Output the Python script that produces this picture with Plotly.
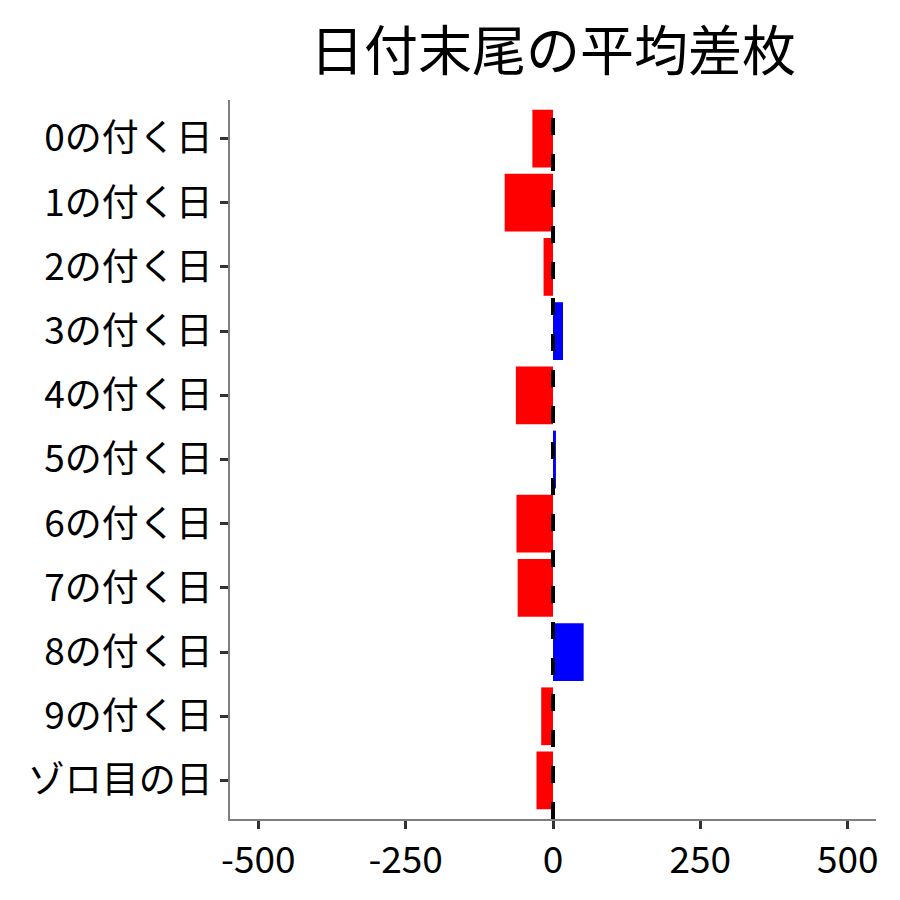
import plotly.graph_objects as go

categories = ["0の付く日", "1の付く日", "2の付く日", "3の付く日", "4の付く日",
              "5の付く日", "6の付く日", "7の付く日", "8の付く日", "9の付く日", "ゾロ目の日"]
values = [-35, -82, -16, 17, -63, 5, -62, -60, 52, -20, -28]
x_ticks = [-500, -250, 0, 250, 500]
title_text = "日付末尾の平均差枚"

colors = ["#0000FF" if v > 0 else "#FF0000" for v in values]

fig = go.Figure()
fig.add_trace(go.Bar(
    x=values, y=categories, orientation="h",
    marker=dict(color=colors, line=dict(width=0)),
    width=0.9, showlegend=False,
))

fig.add_shape(type="line", xref="x", yref="paper", x0=0, x1=0, y0=0, y1=1,
              line=dict(color="black", width=4, dash="17px,19px"), layer="above")

font = "Noto Sans CJK JP"
fig.update_layout(
    width=900, height=900,
    margin=dict(l=222, r=32, t=92, b=89),
    paper_bgcolor="white", plot_bgcolor="white",
    font=dict(family=font, color="black"),
    title=dict(text=title_text, x=0.5, xref="paper", y=0.951, yref="container",
               yanchor="middle", font=dict(size=54, family=font, color="black")),
    bargap=0.1,
)
fig.update_xaxes(
    range=[-548, 548], tickvals=x_ticks, ticktext=[str(t) for t in x_ticks],
    showgrid=False, zeroline=False, showline=True, linecolor="#7f7f7f", linewidth=1.5,
    ticks="outside", ticklen=8, tickwidth=3, tickcolor="#333333",
    tickfont=dict(size=37, family=font, color="black"),
)
fig.update_yaxes(
    categoryorder="array", categoryarray=categories,
    range=[len(categories) - 0.4, -0.6],
    showgrid=False, zeroline=False, showline=True, linecolor="#7f7f7f", linewidth=1.5,
    ticks="outside", ticklen=8, tickwidth=3, tickcolor="#333333",
    tickfont=dict(size=37, family=font, color="black"),
)

fig.write_html("out.html")
